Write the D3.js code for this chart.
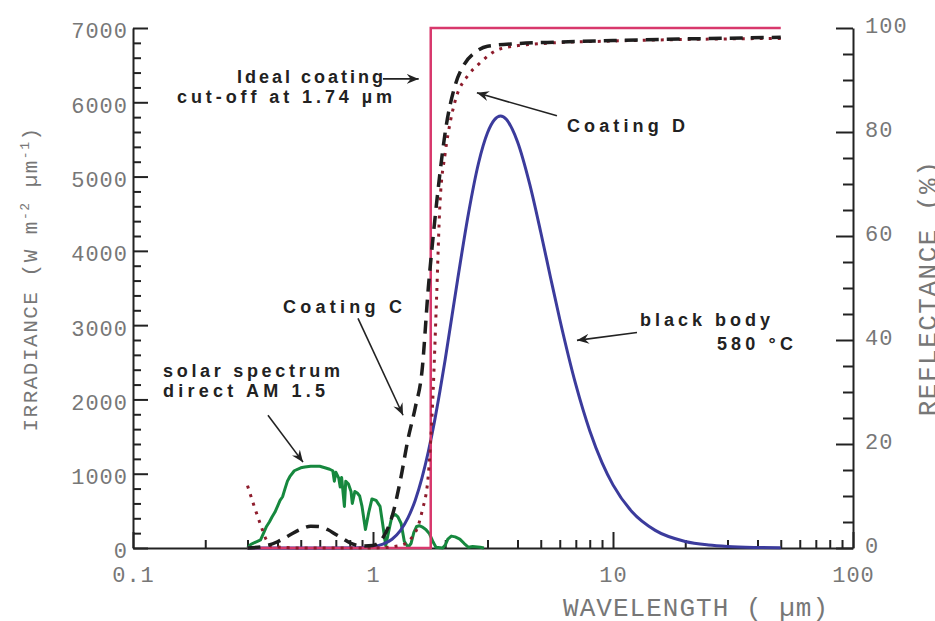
<!DOCTYPE html>
<html>
<head>
<meta charset="utf-8">
<script src="https://cdn.jsdelivr.net/npm/d3@7"></script>
<style>
  body { margin: 0; background: #fff; }
  .note { font-family: "Liberation Sans", Arial, sans-serif; font-weight: bold; font-size: 18px; fill: #222; }
  .title { font-family: "Liberation Mono", "DejaVu Sans Mono", monospace; fill: #777; }
</style>
</head>
<body>
<div id="chart"></div>
<script>
// solar spectrum, direct AM 1.5 (W m-2 um-1)
var solarWl = [0.30, 0.31, 0.33, 0.34, 0.35, 0.36, 0.37, 0.38, 0.39, 0.40, 0.41, 0.42, 0.43, 0.44, 0.45, 0.47,
  0.50, 0.52, 0.55, 0.60, 0.63, 0.66, 0.68, 0.69, 0.70, 0.72, 0.73, 0.74, 0.76, 0.77, 0.79, 0.81, 0.82, 0.84,
  0.86, 0.88, 0.90, 0.93, 0.96, 0.99, 1.03, 1.07, 1.10, 1.13, 1.16, 1.20, 1.24, 1.27, 1.31, 1.35, 1.40, 1.44,
  1.48, 1.52, 1.56, 1.60, 1.66, 1.72, 1.78, 1.83, 1.95, 2.00, 2.05, 2.12, 2.20, 2.30, 2.40, 2.50, 2.60, 2.80, 2.90];
var solarIrr = [0, 50, 90, 110, 200, 290, 350, 420, 480, 560, 640, 690, 800, 900, 960, 1040,
  1080, 1090, 1100, 1100, 1080, 1060, 1040, 900, 1020, 940, 820, 950, 560, 900, 860, 760, 600, 760,
  740, 700, 560, 250, 480, 660, 640, 560, 300, 30, 210, 430, 450, 420, 330, 90, 10, 60,
  210, 290, 300, 285, 250, 190, 80, 10, 0, 40, 120, 160, 150, 120, 60, 10, 20, 10, 0];

// black body at 580 C (W m-2 um-1)
var bodyWl = [0.3, 0.6, 0.9, 1.0, 1.1, 1.2, 1.3, 1.4, 1.5, 1.6, 1.7, 1.8, 1.9, 2.0, 2.25, 2.5, 2.75, 3.0, 3.2,
  3.4, 3.6, 3.8, 4.0, 4.5, 5, 5.5, 6, 7, 8, 9, 10, 12, 15, 20, 25, 30, 40, 50];
var bodyIrr = [0, 0, 5, 18, 51, 118, 234, 409, 644, 944, 1295, 1688, 2110, 2542, 3605, 4507, 5176, 5589, 5761,
  5815, 5767, 5643, 5470, 4895, 4251, 3632, 3079, 2198, 1579, 1149, 850, 488, 237, 88, 40, 20, 7, 3];

// reflectance (%)
var coatCWl = [0.3, 0.35, 0.4, 0.45, 0.5, 0.55, 0.6, 0.65, 0.7, 0.75, 0.8, 0.9, 1.0, 1.1, 1.2, 1.3, 1.4, 1.5,
  1.6, 1.7, 1.8, 1.9, 2.0, 2.2, 2.4, 2.7, 3, 4, 6, 10, 20, 50];
var coatCRefl = [0, 0.3, 1.2, 2.5, 3.6, 4.2, 4.1, 3.5, 2.6, 1.8, 1.0, 0.4, 0.5, 2, 6, 13, 21, 27,
  34, 50, 62, 72, 80, 89, 93, 95.5, 96.5, 97, 97.3, 97.6, 97.9, 98.2];

var coatDWl = [0.3, 0.32, 0.34, 0.36, 0.38, 0.5, 1.0, 1.3, 1.5, 1.6, 1.7, 1.78, 1.84, 1.9, 2.0, 2.1, 2.2, 2.5,
  2.75, 3.4, 5, 10, 20, 50];
var coatDRefl = [12, 8, 4.5, 1.5, 0.3, 0, 0, 0.5, 3, 7, 14, 30, 48, 66, 76, 82, 86, 91,
  93, 96, 97, 97.5, 97.8, 98];

var idealWl = [0.3, 1.74, 1.74, 50];
var idealRefl = [0, 0, 100, 100];

var irrTicks = [0, 1000, 2000, 3000, 4000, 5000, 6000, 7000];
var reflTicks = [0, 20, 40, 60, 80, 100];
var wlTicks = [0.1, 1, 10, 100];
var wlTickLabels = ["0.1", "1", "10", "100"];

var width = 935;
var height = 621;
var plotLeft = 133, plotRight = 853, plotTop = 28, plotBottom = 548;

var svg = d3.select("#chart")
  .append("svg")
  .attr("width", width)
  .attr("height", height);

var x = d3.scaleLog().domain([0.1, 100]).range([plotLeft, plotRight]);
var yL = d3.scaleLinear().domain([0, 7000]).range([plotBottom, plotTop]);
var yR = d3.scaleLinear().domain([0, 100]).range([plotBottom, plotTop]);

function styleAxis(g, size) {
  g.selectAll("path, line").attr("stroke", "#222").attr("stroke-width", 2);
  g.attr("font-family", "'Liberation Mono', 'DejaVu Sans Mono', monospace")
    .attr("font-size", size);
  g.selectAll("text").attr("fill", "#777").attr("letter-spacing", 1);
}

// minor ticks
var wlMinor = [];
[0.1, 1, 10].forEach(function(d) {
  for (var k = 2; k <= 9; k++) wlMinor.push(d * k);
});
var irrMinor = d3.range(0, 7001, 200).filter(function(d) { return d % 1000 != 0; });
var reflMinor = d3.range(0, 101, 5).filter(function(d) { return d % 20 != 0; });

svg.append("g")
  .attr("transform", "translate(0," + plotBottom + ")")
  .call(d3.axisBottom(x).tickValues(wlMinor).tickSize(-8).tickFormat(""))
  .call(function(g) { g.select(".domain").remove(); styleAxis(g, 22); });
svg.append("g")
  .attr("transform", "translate(" + plotLeft + ",0)")
  .call(d3.axisLeft(yL).tickValues(irrMinor).tickSize(-8).tickFormat(""))
  .call(function(g) { g.select(".domain").remove(); styleAxis(g, 22); });
svg.append("g")
  .attr("transform", "translate(" + plotRight + ",0)")
  .call(d3.axisRight(yR).tickValues(reflMinor).tickSize(-10).tickFormat(""))
  .call(function(g) { g.select(".domain").remove(); styleAxis(g, 22); });

// main axes
var xAxis = svg.append("g")
  .attr("transform", "translate(0," + plotBottom + ")")
  .call(d3.axisBottom(x).tickValues(wlTicks).tickSizeInner(-16).tickSizeOuter(0).tickPadding(18)
    .tickFormat(function(d, i) { return wlTickLabels[i]; }))
  .call(function(g) { styleAxis(g, 22); });

var yAxisL = svg.append("g")
  .attr("transform", "translate(" + plotLeft + ",0)")
  .call(d3.axisLeft(yL).tickValues(irrTicks).tickSizeInner(-15).tickSizeOuter(0).tickPadding(5)
    .tickFormat(d3.format("d")))
  .call(function(g) { styleAxis(g, 22); });
yAxisL.selectAll("text").attr("dy", "0.45em");

var yAxisR = svg.append("g")
  .attr("transform", "translate(" + plotRight + ",0)")
  .call(d3.axisRight(yR).tickValues(reflTicks).tickSizeInner(-17).tickSizeOuter(0).tickPadding(12)
    .tickFormat(d3.format("d")))
  .call(function(g) { styleAxis(g, 22); });
yAxisR.selectAll("text").attr("dy", "0.2em");

// curves
function pairs(a, b) { return a.map(function(d, i) { return [d, b[i]]; }); }

var lineL = d3.line().x(function(d) { return x(d[0]); }).y(function(d) { return yL(d[1]); });
var lineLSmooth = d3.line().curve(d3.curveMonotoneX).x(function(d) { return x(d[0]); }).y(function(d) { return yL(d[1]); });
var lineR = d3.line().x(function(d) { return x(d[0]); }).y(function(d) { return yR(d[1]); });
var lineRSmooth = d3.line().curve(d3.curveMonotoneX).x(function(d) { return x(d[0]); }).y(function(d) { return yR(d[1]); });

svg.append("path")
  .datum(pairs(solarWl, solarIrr))
  .attr("d", lineL)
  .attr("fill", "none")
  .attr("stroke", "#16883e")
  .attr("stroke-width", 3)
  .attr("stroke-linejoin", "round");

svg.append("path")
  .datum(pairs(bodyWl, bodyIrr))
  .attr("d", lineLSmooth)
  .attr("fill", "none")
  .attr("stroke", "#3b3b9c")
  .attr("stroke-width", 3);

svg.append("path")
  .datum(pairs(idealWl, idealRefl))
  .attr("d", lineR)
  .attr("fill", "none")
  .attr("stroke", "#d8386c")
  .attr("stroke-width", 2.5);

svg.append("path")
  .datum(pairs(coatDWl, coatDRefl))
  .attr("d", lineRSmooth)
  .attr("fill", "none")
  .attr("stroke", "#8e1c2c")
  .attr("stroke-width", 3)
  .attr("stroke-dasharray", "3,6");

svg.append("path")
  .datum(pairs(coatCWl, coatCRefl))
  .attr("d", lineRSmooth)
  .attr("fill", "none")
  .attr("stroke", "#1e1e1e")
  .attr("stroke-width", 3.5)
  .attr("stroke-dasharray", "13,8");

// axis titles
svg.append("text")
  .attr("class", "title")
  .attr("x", 563)
  .attr("y", 616)
  .attr("font-size", 26)
  .attr("textLength", 265)
  .attr("lengthAdjust", "spacing")
  .text("WAVELENGTH ( \u00b5m)");

var yTitle = svg.append("text")
  .attr("class", "title")
  .attr("transform", "translate(37,279) rotate(-90)")
  .attr("text-anchor", "middle")
  .attr("font-size", 21)
  .attr("letter-spacing", 1.5);
yTitle.append("tspan").text("IRRADIANCE (W m");
yTitle.append("tspan").attr("font-size", 13).attr("dy", -8).text("-2");
yTitle.append("tspan").attr("dy", 8).text(" \u00b5m");
yTitle.append("tspan").attr("font-size", 13).attr("dy", -8).text("-1");
yTitle.append("tspan").attr("dy", 8).text(")");

svg.append("text")
  .attr("class", "title")
  .attr("transform", "translate(936,288) rotate(-90)")
  .attr("text-anchor", "middle")
  .attr("font-size", 26)
  .attr("letter-spacing", 1.5)
  .text("REFLECTANCE (%)");

// annotations (placed in data coordinates)
svg.append("defs").append("marker")
  .attr("id", "arrow")
  .attr("markerUnits", "userSpaceOnUse")
  .attr("markerWidth", 14)
  .attr("markerHeight", 10)
  .attr("refX", 12)
  .attr("refY", 5)
  .attr("orient", "auto")
  .append("path")
  .attr("d", "M0,0 L12,5 L0,10 L4,5 Z")
  .attr("fill", "#222");

var notes = [
  { text: "Ideal coating", wl: 0.271, irr: 6261, len: 146 },
  { text: "cut-off at 1.74 \u00b5m", wl: 0.1525, irr: 5993, len: 215 },
  { text: "Coating D", wl: 6.43, irr: 5603, len: 118 },
  { text: "Coating C", wl: 0.4217, irr: 3158, len: 119 },
  { text: "solar spectrum", wl: 0.1334, irr: 2298, len: 177 },
  { text: "direct AM 1.5", wl: 0.1334, irr: 2029, len: 162 },
  { text: "black body", wl: 12.97, irr: 2983, len: 130 },
  { text: "580 \u00b0C", wl: 27.1, irr: 2660, len: 76 }
];

svg.selectAll(".note")
  .data(notes)
  .enter()
  .append("text")
  .attr("class", "note")
  .attr("x", function(d) { return x(d.wl); })
  .attr("y", function(d) { return yL(d.irr); })
  .attr("textLength", function(d) { return d.len; })
  .attr("lengthAdjust", "spacing")
  .text(function(d) { return d.text; });

var arrows = [
  { from: [1.10, 6315], to: [1.55, 6315] },
  { from: [5.84, 5818], to: [2.71, 6127] },
  { from: [0.866, 3090], to: [1.334, 1787] },
  { from: [0.365, 1787], to: [0.511, 1156] },
  { from: [12.59, 2902], to: [7.08, 2795] }
];

svg.selectAll(".arrow")
  .data(arrows)
  .enter()
  .append("line")
  .attr("class", "arrow")
  .attr("x1", function(d) { return x(d.from[0]); })
  .attr("y1", function(d) { return yL(d.from[1]); })
  .attr("x2", function(d) { return x(d.to[0]); })
  .attr("y2", function(d) { return yL(d.to[1]); })
  .attr("stroke", "#222")
  .attr("stroke-width", 1.6)
  .attr("marker-end", "url(#arrow)");
</script>
</body>
</html>
